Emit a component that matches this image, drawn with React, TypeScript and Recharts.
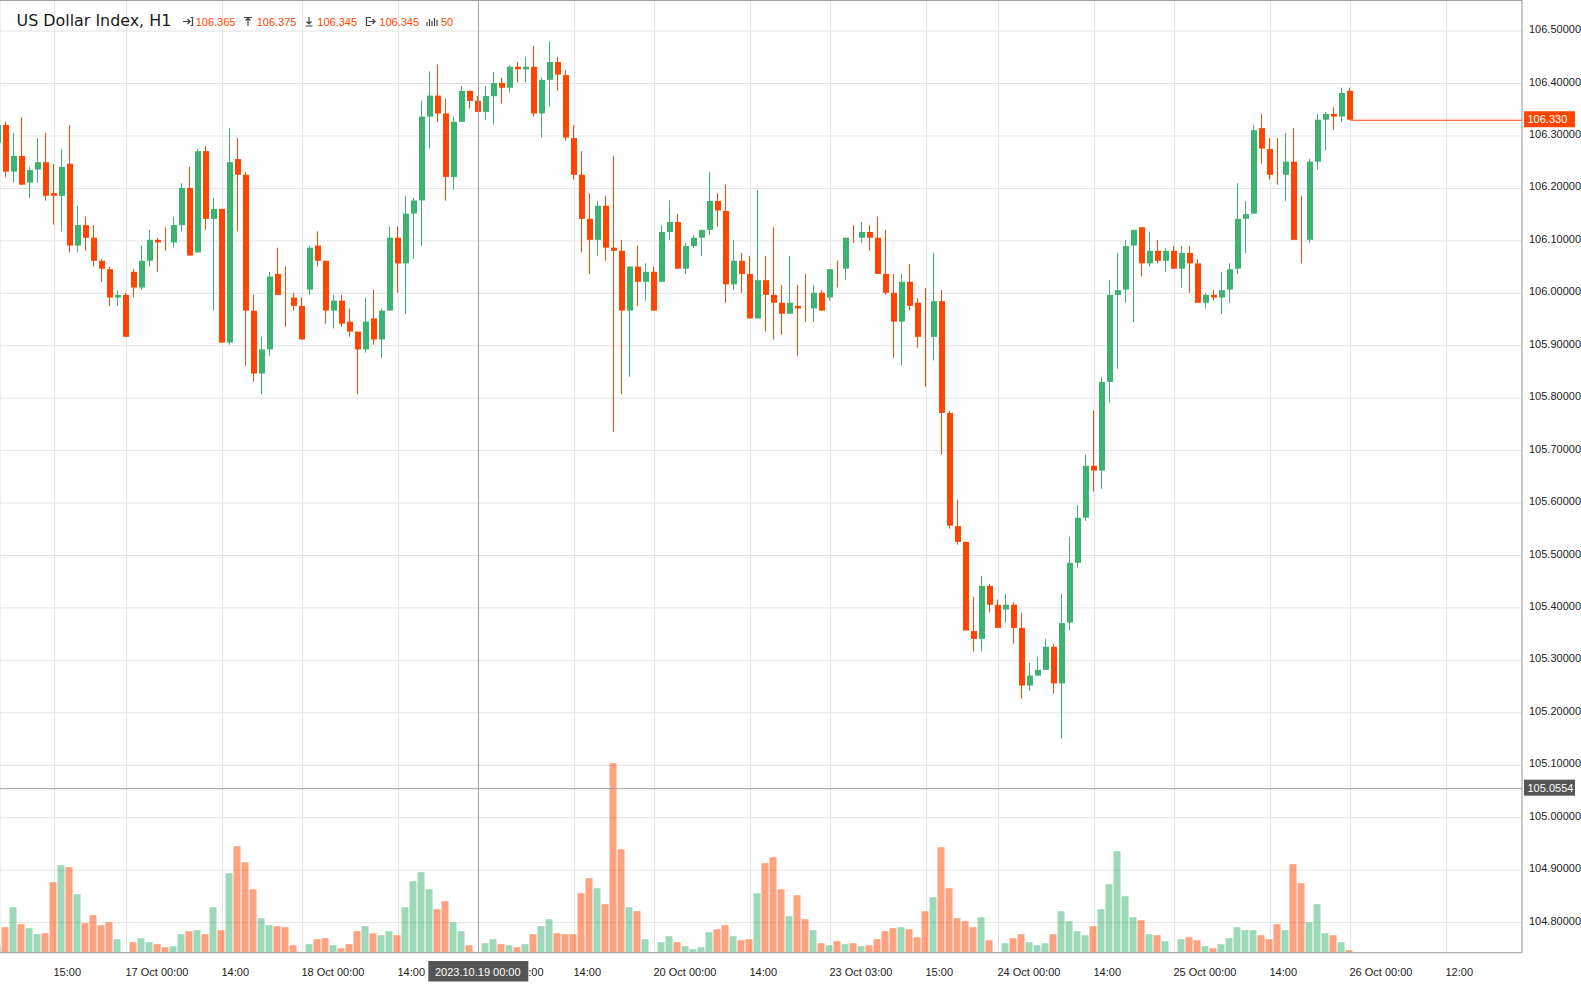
import React from 'react';
import { ComposedChart, Bar, XAxis, YAxis, CartesianGrid, ReferenceLine } from 'recharts';

// hourly bars; index 0 is the first full candle on the left edge
const firstBar = -1;

const open = [
  106.287, 106.321, 106.232, 106.262, 106.211, 106.236, 106.250, 106.191, 106.186, 106.247,
  106.091, 106.130, 106.106, 106.062, 106.046, 105.992, 105.997, 106.041, 106.011, 106.062,
  106.102, 106.097, 106.097, 106.130, 106.201, 106.078, 106.271, 106.142, 106.161, 105.906,
  106.256, 106.226, 105.967, 105.847, 105.893, 106.037, 105.994, 105.992, 105.976, 106.007,
  106.091, 106.062, 105.967, 105.986, 105.946, 105.927, 105.893, 105.952, 105.912, 105.967,
  106.106, 106.057, 106.152, 106.177, 106.337, 106.377, 106.343, 106.222, 106.327, 106.386,
  106.367, 106.346, 106.376, 106.401, 106.392, 106.432, 106.427, 106.432, 106.343, 106.407,
  106.441, 106.416, 106.296, 106.226, 106.142, 106.102, 106.167, 106.087, 106.081, 105.967,
  106.051, 106.022, 106.041, 106.022, 106.117, 106.136, 106.047, 106.090, 106.106, 106.121,
  106.176, 106.157, 106.017, 106.062, 106.037, 105.952, 106.025, 105.997, 105.982, 105.961,
  105.976, 105.971, 105.971, 106.001, 105.992, 106.046, 106.047, 106.106, 106.106, 106.117,
  106.106, 106.037, 106.001, 105.946, 106.022, 105.982, 105.917, 105.917, 105.985, 105.772,
  105.556, 105.526, 105.356, 105.341, 105.442, 105.406, 105.397, 105.406, 105.362, 105.252,
  105.271, 105.282, 105.326, 105.256, 105.372, 105.486, 105.572, 105.671, 105.662, 105.831,
  105.997, 106.007, 106.091, 106.126, 106.057, 106.081, 106.062, 106.081, 106.047, 106.077,
  106.057, 105.982, 105.997, 105.992, 106.007, 106.047, 106.142, 106.152, 106.315, 106.275,
  106.226, 106.226, 106.251, 106.102, 106.102, 106.251, 106.331, 106.342, 106.337, 106.386,
];

const high = [
  106.325, 106.327, 106.306, 106.336, 106.241, 106.296, 106.306, 106.247, 106.275, 106.321,
  106.167, 106.146, 106.130, 106.066, 106.051, 106.006, 106.001, 106.046, 106.091, 106.121,
  106.106, 106.126, 106.146, 106.210, 106.241, 106.275, 106.281, 106.182, 106.161, 106.315,
  106.296, 106.231, 105.997, 105.917, 106.041, 106.087, 106.051, 106.001, 105.992, 106.091,
  106.118, 106.062, 105.997, 105.997, 105.971, 105.927, 105.992, 106.007, 105.971, 106.127,
  106.127, 106.186, 106.182, 106.367, 106.423, 106.436, 106.371, 106.337, 106.395, 106.386,
  106.376, 106.395, 106.422, 106.411, 106.435, 106.441, 106.451, 106.472, 106.411, 106.481,
  106.451, 106.426, 106.321, 106.271, 106.191, 106.176, 106.186, 106.262, 106.102, 106.051,
  106.091, 106.057, 106.051, 106.130, 106.177, 106.151, 106.096, 106.111, 106.121, 106.231,
  106.191, 106.207, 106.102, 106.077, 106.071, 106.197, 106.071, 106.126, 106.016, 106.071,
  106.016, 106.037, 106.016, 106.006, 106.046, 106.062, 106.106, 106.130, 106.136, 106.130,
  106.146, 106.121, 106.037, 106.037, 106.056, 105.991, 106.010, 106.077, 106.006, 105.776,
  105.606, 105.526, 105.421, 105.461, 105.446, 105.416, 105.427, 105.411, 105.391, 105.295,
  105.307, 105.341, 105.331, 105.427, 105.536, 105.596, 105.692, 105.776, 105.840, 106.025,
  106.077, 106.102, 106.121, 106.126, 106.117, 106.102, 106.086, 106.090, 106.090, 106.090,
  106.065, 106.001, 106.006, 106.041, 106.057, 106.210, 106.176, 106.321, 106.342, 106.296,
  106.296, 106.306, 106.315, 106.186, 106.256, 106.342, 106.346, 106.355, 106.392, 106.392,
];

const low = [
  106.283, 106.222, 106.211, 106.207, 106.182, 106.211, 106.177, 106.131, 106.118, 106.078,
  106.078, 106.081, 106.051, 106.022, 105.976, 105.976, 105.917, 105.992, 106.007, 106.051,
  106.041, 106.081, 106.087, 106.118, 106.072, 106.078, 106.121, 105.967, 105.906, 105.902,
  106.118, 105.862, 105.832, 105.807, 105.881, 105.997, 105.936, 105.967, 105.912, 105.997,
  106.051, 105.942, 105.933, 105.936, 105.917, 105.807, 105.887, 105.902, 105.877, 105.967,
  106.001, 105.961, 106.066, 106.091, 106.276, 106.327, 106.177, 106.198, 106.327, 106.352,
  106.346, 106.331, 106.322, 106.362, 106.383, 106.402, 106.402, 106.337, 106.297, 106.356,
  106.386, 106.291, 106.217, 106.078, 106.037, 106.072, 106.062, 105.736, 105.807, 105.841,
  105.976, 105.986, 105.967, 106.022, 106.102, 106.047, 106.037, 106.086, 106.071, 106.111,
  106.127, 105.982, 106.007, 106.001, 105.952, 105.952, 105.927, 105.912, 105.921, 105.961,
  105.881, 105.946, 105.946, 105.967, 105.986, 106.011, 106.026, 106.096, 106.096, 106.081,
  106.037, 105.997, 105.877, 105.863, 105.967, 105.896, 105.822, 105.872, 105.692, 105.551,
  105.521, 105.357, 105.317, 105.317, 105.391, 105.362, 105.372, 105.332, 105.227, 105.242,
  105.271, 105.282, 105.237, 105.151, 105.357, 105.477, 105.566, 105.622, 105.627, 105.791,
  105.856, 105.982, 105.945, 106.032, 106.051, 106.057, 106.041, 106.047, 106.011, 106.001,
  105.982, 105.971, 105.986, 105.961, 105.982, 106.037, 106.077, 106.152, 106.247, 106.217,
  106.207, 106.176, 106.102, 106.057, 106.097, 106.236, 106.272, 106.312, 106.327, 106.331,
];

const close = [
  106.321, 106.232, 106.262, 106.207, 106.235, 106.250, 106.186, 106.186, 106.241, 106.091,
  106.130, 106.106, 106.062, 106.047, 105.992, 105.997, 105.917, 106.011, 106.062, 106.102,
  106.097, 106.097, 106.130, 106.201, 106.072, 106.271, 106.142, 106.161, 105.906, 106.250,
  106.226, 105.967, 105.847, 105.893, 106.032, 105.997, 105.994, 105.976, 105.912, 106.087,
  106.062, 105.967, 105.986, 105.942, 105.927, 105.893, 105.946, 105.912, 105.967, 106.106,
  106.057, 106.152, 106.177, 106.337, 106.377, 106.343, 106.222, 106.327, 106.386, 106.367,
  106.346, 106.376, 106.401, 106.392, 106.432, 106.427, 106.432, 106.343, 106.407, 106.441,
  106.417, 106.297, 106.226, 106.142, 106.102, 106.167, 106.087, 106.081, 105.967, 106.051,
  106.022, 106.041, 105.967, 106.117, 106.136, 106.047, 106.090, 106.106, 106.121, 106.176,
  106.158, 106.017, 106.062, 106.037, 105.952, 106.025, 105.997, 105.982, 105.961, 105.982,
  105.971, 105.971, 106.001, 105.967, 106.046, 106.046, 106.106, 106.106, 106.117, 106.106,
  106.037, 106.001, 105.946, 106.022, 105.976, 105.917, 105.917, 105.985, 105.772, 105.557,
  105.526, 105.357, 105.341, 105.442, 105.406, 105.362, 105.406, 105.362, 105.252, 105.271,
  105.282, 105.326, 105.256, 105.371, 105.486, 105.572, 105.671, 105.662, 105.831, 105.997,
  106.006, 106.090, 106.121, 106.057, 106.081, 106.062, 106.081, 106.047, 106.077, 106.057,
  105.982, 105.997, 105.992, 106.006, 106.046, 106.142, 106.151, 106.311, 106.276, 106.226,
  106.226, 106.251, 106.102, 106.102, 106.251, 106.331, 106.342, 106.337, 106.382, 106.331,
];

// tick volume
const volume = [
  150, 510, 910, 570, 490, 370, 390, 1410, 1750, 1710,
  1170, 590, 750, 550, 610, 270, 10, 210, 290, 210,
  170, 110, 130, 370, 430, 450, 370, 910, 450, 1590,
  2130, 1810, 1270, 690, 550, 530, 510, 150, 10, 170,
  270, 290, 150, 90, 170, 430, 530, 390, 350, 430,
  350, 910, 1430, 1610, 1270, 870, 1030, 610, 430, 150,
  10, 190, 270, 170, 150, 110, 170, 370, 530, 670,
  390, 370, 370, 1190, 1490, 1290, 970, 3790, 2070, 910,
  830, 270, 10, 210, 330, 210, 130, 70, 110, 410,
  470, 550, 330, 250, 270, 1190, 1790, 1910, 1270, 730,
  1150, 670, 450, 190, 150, 230, 170, 190, 130, 150,
  270, 430, 490, 510, 470, 310, 830, 1110, 2110, 1290,
  690, 630, 510, 710, 250, 10, 190, 290, 370, 210,
  150, 190, 370, 830, 630, 430, 350, 530, 870, 1370,
  2030, 1130, 710, 650, 370, 350, 230, 10, 270, 310,
  250, 130, 90, 170, 290, 510, 450, 450, 350, 270,
  570, 450, 1770, 1390, 610, 970, 390, 350, 210, 50,
];

const timeTicks = [6, 15, 27, 37, 49, 59, 71, 81, 93, 103, 115, 124, 136, 146, 158, 168, 180];
const timeLabels = [
  '15:00', '17 Oct 00:00', '14:00', '18 Oct 00:00', '14:00', '19 Oct 00:00', '14:00', '20 Oct 00:00',
  '14:00', '23 Oct 03:00', '15:00', '24 Oct 00:00', '14:00', '25 Oct 00:00', '14:00', '26 Oct 00:00', '12:00',
];
const priceTicks = [
  104.8, 104.9, 105, 105.1, 105.2, 105.3, 105.4, 105.5, 105.6,
  105.7, 105.8, 105.9, 106, 106.1, 106.2, 106.3, 106.4, 106.5,
];

const headerValues = ['106.365', '106.375', '106.345', '106.345', '50'];
const lastPrice = 106.33;
const paneSplit = 105.0554;
const cursorBar = 59;
const cursorLabel = '2023.10.19 00:00';

const priceMin = 104.7426;
const priceMax = 106.5593;
const xMin = -0.8125;
const xMax = 189.4375;
const volMax = 19054;

const UP = '#3cb371';
const DOWN = '#ff4500';
const FRAME = '#a0a0a0';
const FONT = '"Liberation Sans", Arial, sans-serif';

const data = open.map((o, j) => ({
  i: firstBar + j,
  o,
  h: high[j],
  l: low[j],
  c: close[j],
  v: volume[j],
  range: [low[j], high[j]],
}));

function Candle(props: any) {
  const { x, y, width, height, payload } = props;
  if (x == null || y == null) return null;
  const top = Math.min(y, y + height);
  const bot = Math.max(y, y + height);
  const { o, h, l, c } = payload;
  const k = h === l ? 0 : (bot - top) / (h - l);
  const yOf = (p: number) => top + (h - p) * k;
  const cx = x + width / 2;
  const color = c > o ? UP : DOWN;
  const bTop = yOf(Math.max(o, c));
  const bBot = yOf(Math.min(o, c));
  return (
    <g>
      <rect x={cx - 1.5} y={top} width={1} height={Math.max(bot - top, 1)} fill={color} />
      {bBot - bTop >= 0.5 && <rect x={cx - 3.5} y={bTop} width={6} height={bBot - bTop} fill={color} />}
    </g>
  );
}

function VolBar(props: any) {
  const { x, y, width, height, payload } = props;
  if (x == null || !height) return null;
  const cx = x + width / 2;
  const color = payload.c > payload.o ? UP : DOWN;
  return <rect x={cx - 4.5} y={y} width={7} height={height} fill={color} fillOpacity={0.5} />;
}

function TimeTick(props: any) {
  const { x, y, payload } = props;
  const label = timeLabels[timeTicks.indexOf(payload.value)];
  if (payload.value === cursorBar) {
    // the crosshair box covers most of this label, only its tail shows
    return (
      <g>
        <text x={x + 65} y={y + 23} fontSize={11} fontFamily={FONT} fill="#222" textAnchor="end">
          {label.slice(-3)}
        </text>
        <rect x={x - 50.2} y={y + 8.3} width={100} height={20.5} fill="#555" />
        <text x={x - 0.7} y={y + 23} fontSize={11} fontFamily={FONT} fill="#fff" textAnchor="middle">
          {cursorLabel}
        </text>
      </g>
    );
  }
  return (
    <text x={x - 1} y={y + 23} fontSize={11} fontFamily={FONT} fill="#222" textAnchor="start">
      {label}
    </text>
  );
}

function PriceTick(props: any) {
  const { x, y, payload } = props;
  return (
    <text x={x} y={y + 2} fontSize={11} fontFamily={FONT} fill="#222" textAnchor="start">
      {Number(payload.value).toFixed(5)}
    </text>
  );
}

const priceBox = (text: string, fill: string) => (props: any) => {
  const vb = props.viewBox;
  if (!vb) return null;
  const x = vb.x + vb.width + 2;
  const y = vb.y;
  return (
    <g>
      <rect x={x} y={y - 9} width={51} height={16} fill={fill} />
      <text x={x + 3.5} y={y + 3} fontSize={11} fontFamily={FONT} fill="#fff">
        {text}
      </text>
    </g>
  );
};

function Header() {
  const ico = { stroke: '#444', strokeWidth: 1.2, fill: 'none' };
  const val = { fontSize: 11, fontFamily: FONT, fill: DOWN };
  return (
    <svg width={480} height={40} style={{ position: 'absolute', left: 0, top: 0, pointerEvents: 'none' }}>
      <text x={16.5} y={26} fontSize={15.9} fontFamily='"DejaVu Sans", sans-serif' fill="#1a1a1a">
        US Dollar Index, H1
      </text>
      <path d="M183 21.5H190M187.5 19L190 21.5L187.5 24M190.5 17.5H192.5V25.5H190.5" {...ico} />
      <text x={195.7} y={26} {...val}>{headerValues[0]}</text>
      <path d="M244 17.5H252M248 18V26M245.5 20.5L248 18L250.5 20.5" {...ico} />
      <text x={256.7} y={26} {...val}>{headerValues[1]}</text>
      <path d="M309 17V24M306.5 21.5L309 24L311.5 21.5M305.5 26H312.5" {...ico} />
      <text x={317.3} y={26} {...val}>{headerValues[2]}</text>
      <path d="M371 17.5H366.5V25.5H371M368.5 21.5H375M372.5 19L375 21.5L372.5 24" {...ico} />
      <text x={379.3} y={26} {...val}>{headerValues[3]}</text>
      <path d="M427 22V26M429.5 19V26M432 21V26M434.5 18V26M437 20V26" {...ico} />
      <text x={441} y={26} {...val}>{headerValues[4]}</text>
    </svg>
  );
}

export default function App() {
  return (
    <div style={{ position: 'relative', width: 1581, height: 988, background: '#fff' }}>
      <style>{'body{margin:0}'}</style>
      <ComposedChart width={1581} height={988} data={data} margin={{ top: 0, right: 0, bottom: 0, left: 0 }}>
        <CartesianGrid xAxisId="main" yAxisId="p" stroke="#e3e3e3" />
        <XAxis
          xAxisId="main"
          dataKey="i"
          type="number"
          domain={[xMin, xMax]}
          allowDataOverflow
          ticks={timeTicks}
          interval={0}
          height={35.3}
          tickLine={false}
          tickSize={0}
          tickMargin={0}
          axisLine={{ stroke: FRAME }}
          tick={<TimeTick />}
        />
        <XAxis xAxisId="vx" dataKey="i" type="number" domain={[xMin, xMax]} allowDataOverflow hide />
        <YAxis
          yAxisId="p"
          orientation="right"
          width={59}
          type="number"
          domain={[priceMin, priceMax]}
          allowDataOverflow
          ticks={priceTicks}
          interval={0}
          tickLine={false}
          tickSize={0}
          tickMargin={7}
          axisLine={{ stroke: FRAME }}
          tick={<PriceTick />}
        />
        <YAxis yAxisId="v" type="number" domain={[0, volMax]} allowDataOverflow hide />
        <ReferenceLine xAxisId="main" yAxisId="p" y={priceMax - 0.001} stroke={FRAME} ifOverflow="visible" />
        <ReferenceLine
          xAxisId="main"
          yAxisId="p"
          y={paneSplit}
          stroke={FRAME}
          ifOverflow="visible"
          label={priceBox(paneSplit.toFixed(4), '#555')}
        />
        <ReferenceLine xAxisId="main" yAxisId="p" x={cursorBar} stroke={FRAME} ifOverflow="visible" />
        <Bar
          xAxisId="vx"
          yAxisId="v"
          dataKey="v"
          barSize={7}
          shape={<VolBar />}
          isAnimationActive={false}
        />
        <Bar
          xAxisId="main"
          yAxisId="p"
          dataKey="range"
          barSize={6}
          shape={<Candle />}
          isAnimationActive={false}
        />
        <ReferenceLine
          xAxisId="main"
          yAxisId="p"
          segment={[{ x: 168, y: lastPrice }, { x: xMax, y: lastPrice }]}
          stroke={DOWN}
          ifOverflow="visible"
          label={priceBox(lastPrice.toFixed(3), DOWN)}
        />
      </ComposedChart>
      <Header />
    </div>
  );
}
